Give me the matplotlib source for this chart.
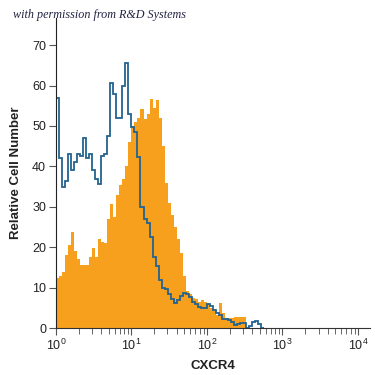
import matplotlib
matplotlib.use("Agg")
import matplotlib.pyplot as plt
import numpy as np

# histogram channels, 0.04 decade wide, starting at 10^0
bin_width = 0.04

isotype = [57, 42, 35, 36.5, 43, 39, 41, 43, 42.5, 47,
           42, 43, 39, 37, 35.6, 42.5, 43, 47.5, 60.7, 58,
           52, 52, 60, 65.6, 53, 49.7, 48.6, 42.4, 30, 27,
           26, 22.6, 17.5, 15.3, 12, 10, 9.8, 8.5, 7.2, 6.3,
           7, 8, 8.6, 8.4, 7.7, 6.5, 6, 5.2, 5, 5,
           5.9, 5.5, 4.5, 3.7, 3.2, 2.3, 2.2, 2, 1.6, 0.8,
           1.0, 1.2, 1.2, 0, 0.5, 1.5, 1.7, 1, 0]

cxcr4 = [12.5, 13, 14, 18, 20.5, 23.8, 19, 17, 15.5, 15.5,
         15.6, 17.6, 19.8, 17.5, 22, 21.2, 21, 27, 30.7, 27.5,
         33, 35.5, 37, 40, 46, 50, 51, 52, 54.2, 51.7,
         53, 56.6, 54.5, 56.5, 52, 45, 36, 31, 28, 25,
         22, 18.5, 13, 9.2, 8.5, 7.4, 7.3, 6.5, 6.9, 6.5,
         6, 5, 4.7, 3.2, 6.2, 3.7, 2.5, 2.5, 2.6, 2.7,
         2.8, 2.8, 2.8, 0, 0, 0, 0, 0, 0]

yticks = [0, 10, 20, 30, 40, 50, 60, 70]
xticks = [1, 10, 100, 1000, 10000]
xticklabels = ["10$^0$", "10$^1$", "10$^2$", "10$^3$", "10$^4$"]

edges = 10 ** (np.arange(len(cxcr4) + 1) * bin_width)

plt.rcParams['font.family'] = ['Liberation Sans', 'DejaVu Sans']
plt.rcParams['mathtext.fontset'] = 'custom'
plt.rcParams['mathtext.rm'] = 'Liberation Sans'
plt.rcParams['mathtext.it'] = 'Liberation Sans'

fig = plt.figure(figsize=(3.75, 3.75), dpi=100)
ax = fig.add_axes([0.149, 0.125, 0.838, 0.827])

ax.stairs(cxcr4, edges, fill=True, color='#f6a01e', baseline=0)
ax.stairs(isotype, edges, color='#23628f', linewidth=1.3, baseline=None)

ax.set_xscale('log')
ax.set_xlim(1, 10 ** 4.16)
ax.set_ylim(0, 76.7)
ax.set_yticks(yticks)
ax.set_xticks(xticks)
ax.set_xticklabels(xticklabels)
ax.tick_params(axis='both', direction='out', length=5, width=0.8,
               color='#555555', labelsize=9, labelcolor='#222222', pad=2)
ax.tick_params(axis='x', which='minor', length=4, width=0.7, color='#666666')

ax.spines['top'].set_visible(False)
ax.spines['right'].set_visible(False)
ax.spines['left'].set_color('#222222')
ax.spines['bottom'].set_color('#333333')

ax.set_xlabel("CXCR4", fontsize=9.5, fontweight='bold', labelpad=5, color='#222222')
ax.set_ylabel("Relative Cell Number", fontsize=9.5, fontweight='bold',
              labelpad=7, color='#222222')

fig.text(0.035, 0.952, "with permission from R&D Systems", fontsize=8.7,
         style='italic', family=['Liberation Serif', 'DejaVu Serif'],
         color='#222244')

fig.savefig("out.png", dpi=100)
